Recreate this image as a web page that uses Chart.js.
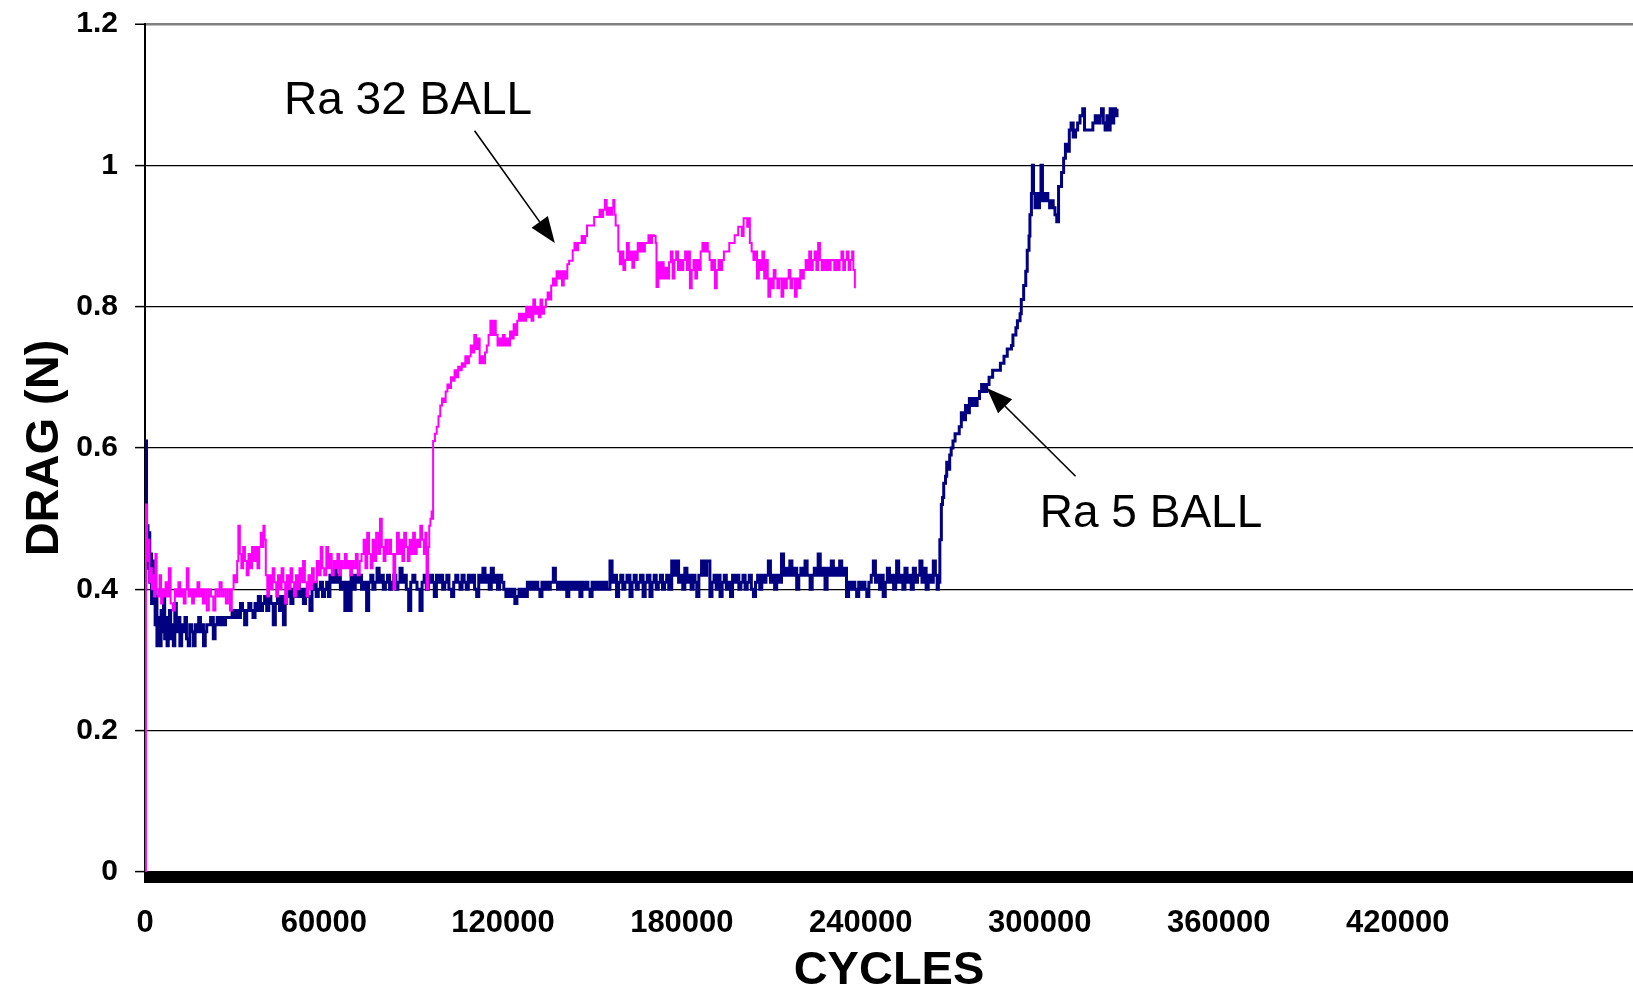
<!DOCTYPE html>
<html>
<head>
<meta charset="utf-8">
<title>Drag vs cycles</title>
<script src="https://cdn.jsdelivr.net/npm/chart.js@4/dist/chart.umd.min.js"></script>
<style>
  html, body { margin: 0; padding: 0; background: #ffffff; overflow: hidden; }
  #wrap { width: 1633px; height: 999px; position: relative; }
  canvas { display: block; }
</style>
</head>
<body>
<div id="wrap"><canvas id="chart" width="1633" height="999"></canvas></div>
<script>
// Axis tick values
const xTickValues = [0, 60000, 120000, 180000, 240000, 300000, 360000, 420000];
const yTickValues = [0, 0.2, 0.4, 0.6, 0.8, 1, 1.2];

// Series names
const seriesNames = ['Ra 32 BALL', 'Ra 5 BALL'];

// Ra 32 ball: [cycles, drag (N)]
const ra32Readings = [
  [0, 0.00], [300, 0.52], [700, 0.44], [1100, 0.47], [1500, 0.41], [1900, 0.43], [2300, 0.40],
  [2700, 0.42], [3100, 0.39], [3500, 0.45], [3900, 0.40], [4400, 0.39], [4900, 0.42], [5400, 0.38],
  [5900, 0.40], [6400, 0.39], [6900, 0.41], [7400, 0.39], [8000, 0.43], [8600, 0.38], [9300, 0.37],
  [10000, 0.40], [10600, 0.39], [11200, 0.41], [11800, 0.39], [12400, 0.40], [13000, 0.38], [13600, 0.40],
  [14000, 0.43], [14600, 0.39], [15200, 0.40], [15800, 0.38], [16400, 0.40], [17000, 0.39], [17600, 0.41],
  [18200, 0.39], [18800, 0.40], [19400, 0.38], [20000, 0.40], [20700, 0.37], [21400, 0.40], [22100, 0.39],
  [22900, 0.37], [23600, 0.40], [24300, 0.39], [25000, 0.41], [25700, 0.39], [26400, 0.40], [27100, 0.38],
  [27800, 0.40], [28500, 0.37], [29100, 0.40], [29700, 0.42], [30300, 0.41], [30900, 0.44], [31300, 0.49],
  [31800, 0.45], [32300, 0.43], [32900, 0.46], [33500, 0.44], [34100, 0.42], [34700, 0.45], [35300, 0.43],
  [35900, 0.46], [36500, 0.44], [37100, 0.46], [37700, 0.43], [38300, 0.46], [38800, 0.48], [39300, 0.46],
  [39700, 0.49], [40100, 0.47], [40500, 0.42], [41000, 0.39], [41600, 0.42], [42200, 0.40], [42800, 0.43],
  [43400, 0.41], [44000, 0.39], [44600, 0.42], [45200, 0.40], [45800, 0.43], [46400, 0.41], [47000, 0.38],
  [47600, 0.42], [48200, 0.40], [48800, 0.43], [49400, 0.41], [50000, 0.39], [50600, 0.42], [51200, 0.40],
  [51800, 0.43], [52400, 0.41], [53000, 0.44], [53600, 0.41], [54200, 0.39], [54800, 0.42], [55400, 0.40],
  [56000, 0.43], [56600, 0.41], [57600, 0.44], [58200, 0.42], [58900, 0.46], [59500, 0.43], [60100, 0.42],
  [60800, 0.46], [61400, 0.43], [62000, 0.45], [62600, 0.42], [63300, 0.44], [63900, 0.43], [64500, 0.45],
  [65100, 0.42], [65700, 0.44], [66300, 0.43], [67000, 0.45], [67600, 0.43], [68200, 0.44], [68800, 0.42],
  [69400, 0.44], [70000, 0.43], [70700, 0.45], [71300, 0.42], [72000, 0.44], [72600, 0.45], [73300, 0.47],
  [73900, 0.43], [74500, 0.48], [75100, 0.45], [75700, 0.43], [76300, 0.47], [76900, 0.44], [77500, 0.48],
  [78200, 0.45], [78800, 0.50], [79400, 0.46], [80000, 0.44], [80600, 0.47], [81200, 0.45], [81900, 0.47],
  [82500, 0.45], [83300, 0.40], [83900, 0.45], [84500, 0.48], [85100, 0.45], [85700, 0.47], [86300, 0.44],
  [86900, 0.48], [87500, 0.46], [88100, 0.44], [88700, 0.47], [89300, 0.45], [89900, 0.48], [90500, 0.45],
  [91100, 0.47], [91700, 0.46], [92300, 0.49], [92900, 0.47], [93500, 0.45], [94000, 0.48], [94400, 0.40],
  [94900, 0.46], [95300, 0.49], [95700, 0.50], [96100, 0.51], [96440, 0.50], [96600, 0.61], [97200, 0.62],
  [97800, 0.63], [98400, 0.645], [99000, 0.66], [99600, 0.67], [100200, 0.665], [100800, 0.68], [101400, 0.69],
  [102000, 0.685], [102600, 0.70], [103200, 0.695], [103800, 0.71], [104400, 0.70], [105000, 0.715], [105600, 0.71],
  [106200, 0.72], [106800, 0.715], [107400, 0.73], [108000, 0.72], [108600, 0.73], [109200, 0.745], [109800, 0.735],
  [110400, 0.76], [111000, 0.74], [111600, 0.755], [112200, 0.72], [112800, 0.73], [113400, 0.72], [114000, 0.735],
  [114600, 0.745], [115200, 0.76], [115800, 0.78], [116400, 0.76], [117000, 0.78], [117600, 0.76], [118200, 0.745],
  [118800, 0.755], [119400, 0.745], [120000, 0.76], [120600, 0.745], [121200, 0.755], [121800, 0.745], [122400, 0.765],
  [123000, 0.755], [123600, 0.775], [124200, 0.76], [124800, 0.78], [125400, 0.79], [126000, 0.78], [126600, 0.79],
  [127200, 0.78], [127800, 0.80], [128400, 0.785], [129000, 0.80], [129600, 0.78], [130200, 0.81], [130800, 0.79],
  [131400, 0.80], [132000, 0.785], [132600, 0.81], [133200, 0.79], [133800, 0.80], [134400, 0.81], [135000, 0.82],
  [135600, 0.81], [136200, 0.83], [136800, 0.84], [137400, 0.83], [138000, 0.85], [138600, 0.84], [139200, 0.85],
  [139800, 0.83], [140400, 0.85], [141000, 0.84], [141600, 0.86], [142200, 0.865], [142800, 0.865], [143400, 0.88],
  [144000, 0.89], [144600, 0.88], [145200, 0.89], [145800, 0.89], [146400, 0.90], [147000, 0.89], [147600, 0.90],
  [148200, 0.915], [148800, 0.915], [149400, 0.915], [150000, 0.915], [150600, 0.927], [151200, 0.927], [151800, 0.927],
  [152400, 0.937], [153000, 0.927], [153600, 0.937], [154200, 0.951], [154800, 0.93], [155400, 0.94], [156000, 0.93],
  [156600, 0.94], [157000, 0.951], [157400, 0.93], [157800, 0.915], [158300, 0.915], [158700, 0.878], [159200, 0.86],
  [159800, 0.878], [160400, 0.852], [161000, 0.866], [161600, 0.89], [162200, 0.866], [162800, 0.878], [163400, 0.855],
  [164000, 0.878], [164600, 0.866], [165200, 0.89], [165800, 0.878], [166400, 0.89], [167000, 0.878], [167600, 0.89],
  [168200, 0.89], [168800, 0.901], [169400, 0.89], [170000, 0.901], [170600, 0.90], [171200, 0.89], [171500, 0.828],
  [172100, 0.863], [172700, 0.84], [173300, 0.863], [173900, 0.84], [174500, 0.855], [175100, 0.84], [175700, 0.863],
  [176300, 0.878], [176900, 0.84], [177500, 0.866], [178100, 0.878], [178700, 0.852], [179300, 0.866], [179900, 0.852],
  [180500, 0.866], [181100, 0.878], [181700, 0.852], [182300, 0.878], [182700, 0.826], [183300, 0.852], [183900, 0.866],
  [184500, 0.84], [185100, 0.866], [185700, 0.852], [186300, 0.878], [186900, 0.89], [187500, 0.878], [188100, 0.89],
  [188700, 0.878], [189300, 0.866], [189900, 0.852], [190500, 0.866], [191100, 0.826], [191700, 0.852], [192300, 0.866],
  [192900, 0.852], [193500, 0.866], [194100, 0.878], [194700, 0.878], [195300, 0.878], [195900, 0.89], [196500, 0.89],
  [197100, 0.89], [197700, 0.901], [198300, 0.901], [198900, 0.913], [199500, 0.913], [200100, 0.90], [200700, 0.925],
  [201300, 0.925], [201900, 0.913], [202500, 0.925], [202800, 0.89], [203400, 0.878], [204000, 0.866], [204600, 0.878],
  [205200, 0.84], [205800, 0.866], [206400, 0.852], [207000, 0.878], [207600, 0.84], [208200, 0.866], [208800, 0.84],
  [209000, 0.814], [209600, 0.84], [210200, 0.826], [210800, 0.852], [211400, 0.84], [212000, 0.826], [212600, 0.84],
  [213400, 0.814], [214000, 0.84], [214600, 0.826], [215200, 0.84], [215800, 0.852], [216400, 0.826], [217000, 0.84],
  [217900, 0.814], [218500, 0.84], [219100, 0.826], [219700, 0.852], [220300, 0.84], [220900, 0.852], [221500, 0.866],
  [222100, 0.852], [222700, 0.878], [223300, 0.852], [223900, 0.866], [224500, 0.878], [225100, 0.852], [225700, 0.89],
  [226300, 0.866], [226900, 0.852], [227500, 0.866], [228100, 0.852], [228700, 0.866], [229300, 0.852], [229900, 0.866],
  [230500, 0.866], [231100, 0.852], [231700, 0.866], [232300, 0.852], [232900, 0.866], [233500, 0.878], [234100, 0.852],
  [234700, 0.866], [235300, 0.878], [235900, 0.852], [236500, 0.866], [237100, 0.878], [237500, 0.852], [238000, 0.826]
];

// Ra 5 ball: [cycles, drag (N)]
const ra5Readings = [
  [0, 0.40], [250, 0.61], [500, 0.46], [750, 0.49], [1000, 0.43], [1300, 0.48], [1600, 0.41], [1900, 0.45],
  [2200, 0.38], [2500, 0.44], [2800, 0.40], [3100, 0.42], [3400, 0.35], [3700, 0.39], [4000, 0.32], [4300, 0.36],
  [4600, 0.34], [5000, 0.32], [5400, 0.37], [5800, 0.34], [6200, 0.39], [6600, 0.33], [7000, 0.36], [7400, 0.32],
  [7800, 0.35], [8200, 0.37], [8600, 0.33], [9000, 0.35], [9500, 0.32], [10000, 0.38], [10500, 0.34], [11000, 0.36],
  [11700, 0.32], [12300, 0.35], [12800, 0.34], [13400, 0.36], [13900, 0.33], [14500, 0.32], [15000, 0.35], [15600, 0.34],
  [16200, 0.32], [16800, 0.35], [17400, 0.34], [18000, 0.36], [18600, 0.34], [19100, 0.35], [19600, 0.32], [20200, 0.34],
  [20700, 0.35], [21300, 0.35], [22000, 0.36], [22900, 0.33], [23500, 0.35], [24200, 0.36], [24900, 0.35], [25600, 0.36],
  [26300, 0.35], [27000, 0.36], [27700, 0.36], [28500, 0.36], [29200, 0.37], [29900, 0.36], [30600, 0.37], [31300, 0.36],
  [32000, 0.38], [32700, 0.37], [33400, 0.35], [34100, 0.37], [34800, 0.38], [35500, 0.37], [36200, 0.36], [36900, 0.38],
  [37400, 0.37], [38000, 0.39], [38700, 0.37], [39400, 0.38], [40100, 0.39], [40800, 0.37], [41500, 0.39], [42200, 0.38],
  [43000, 0.35], [43700, 0.38], [44400, 0.39], [45100, 0.37], [45800, 0.39], [46400, 0.35], [47000, 0.38], [47500, 0.39],
  [48200, 0.40], [48900, 0.38], [49600, 0.40], [50300, 0.39], [51000, 0.41], [51700, 0.39], [52400, 0.40], [53100, 0.38],
  [53800, 0.40], [54500, 0.39], [55300, 0.37], [56000, 0.40], [56700, 0.41], [57400, 0.39], [58100, 0.40], [58800, 0.41],
  [59500, 0.39], [60200, 0.40], [60900, 0.41], [61500, 0.39], [62000, 0.42], [62700, 0.41], [63400, 0.43], [64100, 0.41],
  [64800, 0.42], [65500, 0.40], [66200, 0.41], [67000, 0.37], [67700, 0.41], [68400, 0.37], [69100, 0.42], [69800, 0.40],
  [70500, 0.42], [71200, 0.41], [71900, 0.42], [72600, 0.40], [73300, 0.41], [74300, 0.37], [75000, 0.41], [75700, 0.42],
  [76400, 0.40], [77100, 0.41], [77800, 0.43], [78500, 0.41], [79200, 0.42], [79900, 0.40], [80600, 0.41], [81300, 0.42],
  [82000, 0.40], [82700, 0.41], [83400, 0.42], [84100, 0.40], [84800, 0.41], [85500, 0.43], [86200, 0.41], [86900, 0.42],
  [87600, 0.40], [88400, 0.37], [89100, 0.41], [89800, 0.42], [90500, 0.41], [91200, 0.40], [92200, 0.37], [92900, 0.41],
  [93600, 0.42], [94300, 0.40], [95000, 0.41], [95700, 0.42], [96400, 0.41], [97000, 0.39], [97700, 0.42], [98400, 0.41],
  [99100, 0.42], [99800, 0.40], [100500, 0.41], [101200, 0.42], [101900, 0.40], [102800, 0.39], [103500, 0.41], [104200, 0.42],
  [104900, 0.41], [105600, 0.40], [106300, 0.42], [107000, 0.41], [107700, 0.40], [108400, 0.42], [109100, 0.41], [109800, 0.42],
  [110500, 0.40], [111200, 0.39], [111900, 0.42], [112600, 0.41], [113300, 0.43], [114000, 0.41], [114700, 0.42], [115400, 0.40],
  [116100, 0.43], [116800, 0.41], [117500, 0.42], [118200, 0.40], [118900, 0.42], [119600, 0.41], [120300, 0.40], [121000, 0.39],
  [121700, 0.40], [122400, 0.39], [123100, 0.40], [124000, 0.38], [124700, 0.39], [125400, 0.40], [126100, 0.39], [126800, 0.40],
  [127500, 0.39], [128200, 0.41], [128900, 0.40], [129600, 0.41], [130300, 0.40], [131000, 0.41], [131700, 0.40], [132400, 0.39],
  [133100, 0.41], [133800, 0.40], [134500, 0.41], [135200, 0.40], [135900, 0.41], [136900, 0.43], [137600, 0.41], [138300, 0.40],
  [139000, 0.41], [139700, 0.40], [140400, 0.41], [141400, 0.39], [142100, 0.41], [142800, 0.40], [143500, 0.41], [144200, 0.40],
  [144900, 0.41], [145800, 0.39], [146500, 0.41], [147200, 0.40], [147900, 0.41], [148500, 0.40], [149200, 0.39], [149900, 0.41],
  [150600, 0.40], [151300, 0.41], [152000, 0.40], [152700, 0.41], [153400, 0.40], [154100, 0.41], [154800, 0.40], [155900, 0.44],
  [156600, 0.41], [157300, 0.42], [158100, 0.39], [158800, 0.41], [159500, 0.42], [160200, 0.40], [160900, 0.41], [161600, 0.42],
  [162600, 0.39], [163300, 0.41], [164000, 0.42], [164700, 0.40], [165400, 0.41], [166100, 0.42], [167000, 0.39], [167700, 0.41],
  [168400, 0.42], [169300, 0.39], [170000, 0.41], [170700, 0.42], [171400, 0.40], [172100, 0.41], [172800, 0.42], [173500, 0.40],
  [174200, 0.41], [174900, 0.42], [175600, 0.40], [176600, 0.44], [177300, 0.42], [178200, 0.44], [178900, 0.41], [179600, 0.42],
  [180300, 0.40], [181000, 0.43], [181700, 0.41], [182400, 0.42], [183100, 0.40], [183800, 0.42], [184400, 0.41], [185000, 0.39],
  [185700, 0.42], [186600, 0.44], [187300, 0.42], [188300, 0.44], [189400, 0.39], [190100, 0.41], [190800, 0.42], [191500, 0.40],
  [192100, 0.42], [192800, 0.39], [193500, 0.41], [194200, 0.42], [194900, 0.40], [195600, 0.41], [196300, 0.39], [197000, 0.42],
  [197700, 0.41], [198400, 0.42], [199100, 0.40], [199800, 0.41], [200500, 0.42], [201200, 0.40], [201900, 0.41], [202600, 0.42],
  [203300, 0.40], [204000, 0.39], [204700, 0.41], [205400, 0.42], [206100, 0.40], [206800, 0.42], [207500, 0.41], [208200, 0.42],
  [209000, 0.44], [209700, 0.41], [210400, 0.42], [211100, 0.40], [211800, 0.42], [212500, 0.41], [213400, 0.45], [214100, 0.42],
  [214800, 0.43], [215500, 0.42], [216200, 0.44], [216900, 0.42], [217600, 0.43], [218500, 0.40], [219200, 0.42], [219900, 0.43],
  [220600, 0.42], [221300, 0.44], [222000, 0.42], [223000, 0.40], [223700, 0.42], [224400, 0.43], [225100, 0.42], [225700, 0.45],
  [226400, 0.42], [227100, 0.43], [228000, 0.40], [228700, 0.43], [229400, 0.42], [230100, 0.44], [230800, 0.42], [231500, 0.43],
  [232200, 0.42], [232900, 0.44], [233600, 0.42], [234300, 0.43], [235200, 0.39], [235900, 0.41], [236600, 0.40], [237300, 0.41],
  [238000, 0.40], [238600, 0.39], [239300, 0.41], [240000, 0.40], [240700, 0.41], [241400, 0.40], [242000, 0.39], [242700, 0.41],
  [243500, 0.42], [244200, 0.44], [244900, 0.41], [245600, 0.42], [246300, 0.40], [247000, 0.42], [247500, 0.39], [248200, 0.41],
  [248900, 0.43], [249600, 0.41], [250300, 0.42], [251000, 0.40], [251700, 0.42], [252000, 0.44], [252700, 0.41], [253400, 0.42],
  [254100, 0.40], [254800, 0.43], [255500, 0.41], [256200, 0.42], [256900, 0.40], [257600, 0.43], [258300, 0.41], [259000, 0.42],
  [259800, 0.44], [260500, 0.41], [261200, 0.43], [261900, 0.40], [262600, 0.42], [263300, 0.41], [264300, 0.44], [265000, 0.42],
  [265600, 0.40], [266000, 0.41], [266500, 0.47], [267000, 0.52], [267400, 0.53], [267800, 0.55], [268400, 0.56], [268800, 0.58],
  [269300, 0.57], [269800, 0.59], [270300, 0.60], [270900, 0.61], [271600, 0.62], [272300, 0.62], [273000, 0.63], [273700, 0.65],
  [274400, 0.64], [275100, 0.66], [275800, 0.65], [276400, 0.67], [277100, 0.66], [277700, 0.67], [278300, 0.66], [279000, 0.67],
  [279800, 0.68], [280500, 0.69], [281400, 0.68], [282200, 0.69], [283000, 0.70], [284200, 0.71], [285500, 0.71], [286800, 0.72],
  [288000, 0.73], [289100, 0.74], [290500, 0.745], [291000, 0.76], [292000, 0.77], [292500, 0.78], [293400, 0.79], [293800, 0.81],
  [294600, 0.83], [295300, 0.85], [295800, 0.88], [296400, 0.90], [296700, 0.93], [297200, 0.96], [297500, 1.00], [297900, 0.96],
  [298400, 0.94], [298900, 0.96], [299400, 0.94], [299900, 0.95], [300400, 1.00], [300900, 0.96], [301400, 0.95], [302000, 0.96],
  [302700, 0.95], [303300, 0.94], [303900, 0.95], [304500, 0.94], [305100, 0.93], [305700, 0.92], [306300, 0.97], [307300, 0.99],
  [308000, 1.01], [308600, 1.03], [309200, 1.02], [309900, 1.05], [310500, 1.06], [311200, 1.04], [312000, 1.05], [312700, 1.06],
  [313500, 1.07], [314400, 1.08], [315000, 1.05], [316000, 1.05], [317000, 1.05], [317800, 1.06], [318600, 1.07], [319400, 1.06],
  [320200, 1.07], [320700, 1.08], [321300, 1.06], [321900, 1.05], [322500, 1.07], [323100, 1.05], [323600, 1.08], [324200, 1.06],
  [324800, 1.08], [325400, 1.07], [325900, 1.08]
];

// Callout labels with arrows, placed in data units (cycles, drag)
const callouts = [
  { text: seriesNames[0], at: [46600, 1.073], from: [110500, 1.049], to: [137400, 0.890] },
  { text: seriesNames[1], at: [300000, 0.488], from: [312000, 0.560], to: [282200, 0.685] }
];

const X_MAX = 498900;
const FONT = '"Liberation Sans", Arial, Helvetica, sans-serif';

// Heavy bar drawn along the horizontal axis, just beneath the plot area
const axisBar = {
  id: 'axisBar',
  afterDatasetsDraw(chart) {
    const { ctx, chartArea } = chart;
    const y0 = chart.scales.y.getPixelForValue(0);
    ctx.save();
    ctx.fillStyle = '#000000';
    ctx.fillRect(chartArea.left - 1, y0, chartArea.right - chartArea.left + 1, 11);
    ctx.restore();
  }
};

// Text labels with arrow pointers
const calloutPlugin = {
  id: 'callouts',
  afterDraw(chart) {
    const { ctx } = chart;
    const xs = chart.scales.x, ys = chart.scales.y;
    ctx.save();
    callouts.forEach(c => {
      ctx.font = '46px ' + FONT;
      ctx.fillStyle = '#000000';
      ctx.textAlign = 'left';
      ctx.textBaseline = 'alphabetic';
      ctx.fillText(c.text, xs.getPixelForValue(c.at[0]), ys.getPixelForValue(c.at[1]));

      const x1 = xs.getPixelForValue(c.from[0]), y1 = ys.getPixelForValue(c.from[1]);
      const x2 = xs.getPixelForValue(c.to[0]), y2 = ys.getPixelForValue(c.to[1]);
      const ang = Math.atan2(y2 - y1, x2 - x1);
      const headLen = 26, headHalf = 10;
      const bx = x2 - headLen * Math.cos(ang), by = y2 - headLen * Math.sin(ang);
      ctx.strokeStyle = '#000000';
      ctx.lineWidth = 1.6;
      ctx.beginPath();
      ctx.moveTo(x1, y1);
      ctx.lineTo(bx, by);
      ctx.stroke();
      ctx.beginPath();
      ctx.moveTo(x2, y2);
      ctx.lineTo(bx + headHalf * Math.sin(ang), by - headHalf * Math.cos(ang));
      ctx.lineTo(bx - headHalf * Math.sin(ang), by + headHalf * Math.cos(ang));
      ctx.closePath();
      ctx.fill();
    });
    ctx.restore();
  }
};

const toPoints = rows => rows.map(([x, y]) => ({ x, y }));

new Chart(document.getElementById('chart'), {
  type: 'line',
  data: {
    datasets: [
      {
        label: seriesNames[0],
        data: toPoints(ra32Readings),
        borderColor: '#FF00FF',
        borderWidth: 2,
        pointRadius: 0,
        stepped: true,
        fill: false
      },
      {
        label: seriesNames[1],
        data: toPoints(ra5Readings),
        borderColor: '#000080',
        borderWidth: 3,
        pointRadius: 0,
        stepped: true,
        fill: false
      }
    ]
  },
  options: {
    responsive: false,
    animation: false,
    events: [],
    layout: { padding: { top: 24, right: 0, bottom: 0, left: 0 } },
    plugins: {
      legend: { display: false },
      tooltip: { enabled: false }
    },
    scales: {
      x: {
        type: 'linear',
        min: 0,
        max: X_MAX,
        afterBuildTicks: s => { s.ticks = xTickValues.map(v => ({ value: v })); },
        afterFit: s => { s.height = 127; s.paddingRight = 0; },
        grid: { display: false, drawTicks: false },
        border: { display: false },
        ticks: {
          autoSkip: false,
          maxRotation: 0,
          padding: 33,
          color: '#000000',
          font: { family: FONT, size: 31, weight: 'bold' },
          callback: v => String(v)
        },
        title: {
          display: true,
          text: 'CYCLES',
          color: '#000000',
          font: { family: FONT, size: 47, weight: 'bold', lineHeight: 1 },
          padding: { top: 0, bottom: 4 }
        }
      },
      y: {
        type: 'linear',
        min: 0,
        max: 1.2,
        afterBuildTicks: s => { s.ticks = yTickValues.map(v => ({ value: v })); },
        afterFit: s => { s.width = 145; s.paddingTop = 0; s.paddingBottom = 0; },
        grid: {
          drawTicks: true,
          tickLength: 10,
          tickColor: '#000000',
          tickWidth: 1.5,
          color: c => (c.tick && c.tick.value === 1.2) ? '#808080' : '#000000',
          lineWidth: c => (c.tick && c.tick.value === 1.2) ? 2.5 : 1.2
        },
        border: { display: true, color: '#000000', width: 2 },
        ticks: {
          padding: 17,
          color: '#000000',
          font: { family: FONT, size: 30, weight: 'bold' },
          callback: v => String(v)
        },
        title: {
          display: true,
          text: 'DRAG (N)',
          color: '#000000',
          font: { family: FONT, size: 47, weight: 'bold' },
          padding: { top: 17, bottom: 0 }
        }
      }
    }
  },
  plugins: [axisBar, calloutPlugin]
});
</script>
</body>
</html>
